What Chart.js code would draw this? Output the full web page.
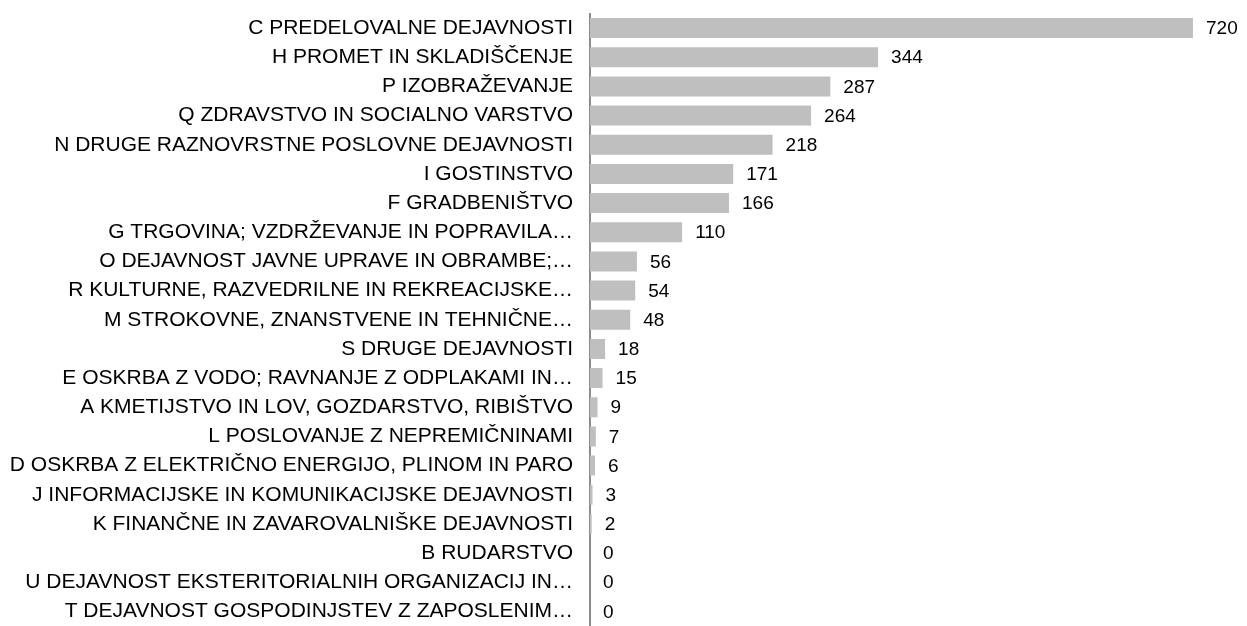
<!DOCTYPE html>
<html>
<head>
<meta charset="utf-8">
<script src="https://cdn.jsdelivr.net/npm/chart.js@4/dist/chart.umd.min.js"></script>
<style>
  html, body { margin: 0; padding: 0; background: #fff; }
  #wrap { width: 1247px; height: 626px; position: relative; }
</style>
</head>
<body>
<div id="wrap"><canvas id="chart"></canvas></div>
<script>
// Categories (as displayed, long names are cut off in the original)
const categories = [
  "C PREDELOVALNE DEJAVNOSTI",
  "H PROMET IN SKLADIŠČENJE",
  "P IZOBRAŽEVANJE",
  "Q ZDRAVSTVO IN SOCIALNO VARSTVO",
  "N DRUGE RAZNOVRSTNE POSLOVNE DEJAVNOSTI",
  "I GOSTINSTVO",
  "F GRADBENIŠTVO",
  "G TRGOVINA; VZDRŽEVANJE IN POPRAVILA…",
  "O DEJAVNOST JAVNE UPRAVE IN OBRAMBE;…",
  "R KULTURNE, RAZVEDRILNE IN REKREACIJSKE…",
  "M STROKOVNE, ZNANSTVENE IN TEHNIČNE…",
  "S DRUGE DEJAVNOSTI",
  "E OSKRBA Z VODO; RAVNANJE Z ODPLAKAMI IN…",
  "A KMETIJSTVO IN LOV, GOZDARSTVO, RIBIŠTVO",
  "L POSLOVANJE Z NEPREMIČNINAMI",
  "D OSKRBA Z ELEKTRIČNO ENERGIJO, PLINOM IN PARO",
  "J INFORMACIJSKE IN KOMUNIKACIJSKE DEJAVNOSTI",
  "K FINANČNE IN ZAVAROVALNIŠKE DEJAVNOSTI",
  "B RUDARSTVO",
  "U DEJAVNOST EKSTERITORIALNIH ORGANIZACIJ IN…",
  "T DEJAVNOST GOSPODINJSTEV Z ZAPOSLENIM…"
];

const counts = [720, 344, 287, 264, 218, 171, 166, 110, 56, 54, 48, 18, 15, 9, 7, 6, 3, 2, 0, 0, 0];

const xMax = 720;

// value labels right of each bar
const valueLabels = {
  id: "valueLabels",
  afterDatasetsDraw(chart) {
    const ctx = chart.ctx;
    const meta = chart.getDatasetMeta(0);
    ctx.save();
    ctx.font = "19px 'Liberation Sans', Arial, sans-serif";
    ctx.fillStyle = "#000";
    ctx.textAlign = "left";
    ctx.textBaseline = "middle";
    meta.data.forEach((bar, i) => {
      ctx.fillText(String(counts[i]), bar.x + 13, bar.y + 1);
    });
    ctx.restore();
  }
};

new Chart(document.getElementById("chart"), {
  type: "bar",
  data: {
    labels: categories,
    datasets: [
      {
        data: counts,
        backgroundColor: "#bfbfbf",
        borderWidth: 0,
        barPercentage: 0.685,
        categoryPercentage: 1
      }
    ]
  },
  options: {
    indexAxis: "y",
    responsive: true,
    maintainAspectRatio: false,
    animation: false,
    layout: { padding: { top: 13.5, right: 54, bottom: 0, left: 0 } },
    plugins: {
      legend: { display: false },
      tooltip: { enabled: false }
    },
    scales: {
      x: {
        display: false,
        min: 0,
        max: xMax
      },
      y: {
        grid: { display: false },
        border: { display: true, color: "#8c8c8c", width: 2 },
        afterFit(scale) {
          scale.width = 590;
          scale.paddingTop = 0;
          scale.paddingBottom = 0;
        },
        ticks: {
          color: "#000",
          padding: 9,
          autoSkip: false,
          font: { family: "'Liberation Sans', Arial, sans-serif", size: 21 }
        }
      }
    }
  },
  plugins: [valueLabels]
});
</script>
</body>
</html>
